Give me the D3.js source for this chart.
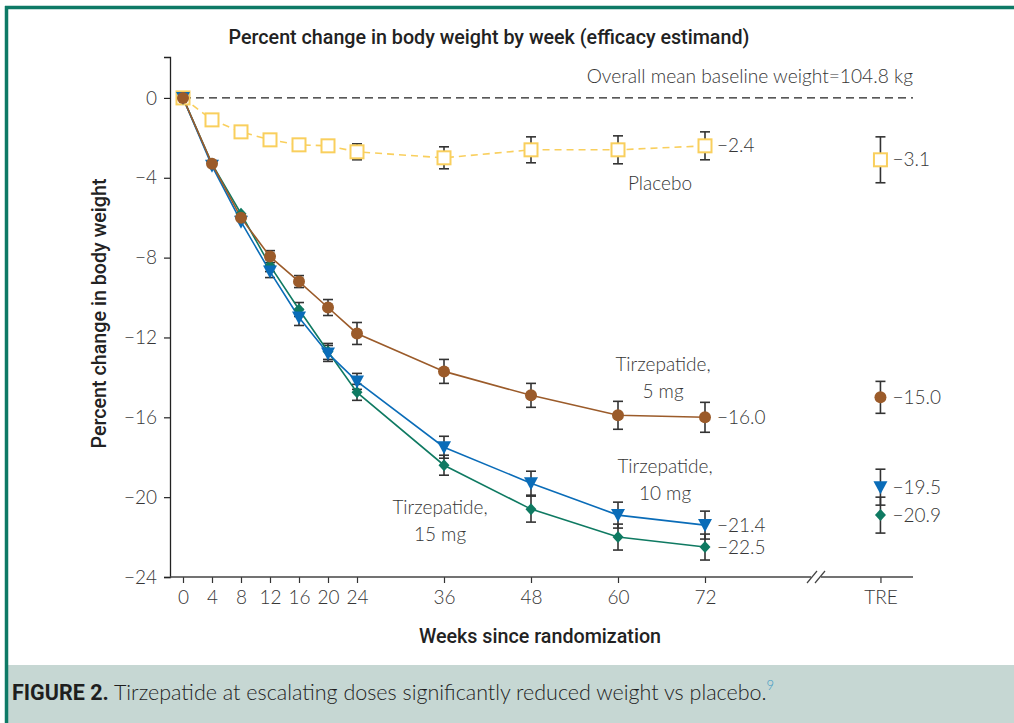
<!DOCTYPE html>
<html><head><meta charset="utf-8">
<script src="https://cdn.jsdelivr.net/npm/d3@7"></script>
<style>
html,body{margin:0;padding:0;background:#fff;}
svg{display:block;}
</style></head>
<body>
<script>
// ---------- data ----------
const weeks = [0,4,8,12,16,20,24,36,48,60,72];
const weekTicks = [0,4,8,12,16,20,24,36,48,60,72];
const treKey = 96.2;
const treLabel = "TRE";
const yTicks = [0,-4,-8,-12,-16,-20,-24];

const placebo    = [0,-1.1,-1.7,-2.1,-2.35,-2.4,-2.7,-3.0,-2.6,-2.6,-2.4];
const placeboErr = [0,0,0,0,0.25,0.25,0.4,0.55,0.65,0.7,0.7];
const tzp5       = [0,-3.3,-6.0,-7.95,-9.2,-10.5,-11.8,-13.7,-14.9,-15.9,-16.0];
const tzp5Err    = [0,0,0,0.3,0.3,0.4,0.55,0.6,0.6,0.7,0.75];
const tzp10      = [0,-3.4,-6.2,-8.7,-11.0,-12.8,-14.2,-17.5,-19.3,-20.9,-21.4];
const tzp10Err   = [0,0,0,0.3,0.4,0.4,0.4,0.55,0.6,0.65,0.7];
const tzp15      = [0,-3.3,-5.8,-8.4,-10.6,-12.7,-14.75,-18.4,-20.6,-22.0,-22.5];
const tzp15Err   = [0,0,0,0.3,0.35,0.4,0.4,0.5,0.65,0.65,0.65];

const treValues = [-3.1,-15.0,-19.5,-20.9];
const treErr    = [1.15,0.8,0.9,0.9];
const endLabels = ["\u22122.4","\u221216.0","\u221221.4","\u221222.5"];
const treLabels = ["\u22123.1","\u221215.0","\u221219.5","\u221220.9"];
const seriesNames = ["Placebo","Tirzepatide,|5 mg","Tirzepatide,|10 mg","Tirzepatide,|15 mg"];

const chartTitle = "Percent change in body weight by week (efficacy estimand)";
const baselineNote = "Overall mean baseline weight=104.8 kg";
const yTitle = "Percent change in body weight";
const xTitle = "Weeks since randomization";
const captionBold = "FIGURE 2.";
const captionText = " Tirzepatide at escalating doses significantly reduced weight vs placebo.";
const captionRef = "9";

// ---------- setup ----------
const W = 1014, H = 723;
const svg = d3.select("body").append("svg").attr("width",W).attr("height",H);
const tickFont = "Lato, 'Open Sans', sans-serif";
const boldFont = "Roboto, 'Noto Sans', sans-serif";
const textCol = "#363636";
const lightW = 300;

// frame
svg.append("rect").attr("x",0).attr("y",0).attr("width",W).attr("height",H).attr("fill","#fff");
svg.append("rect").attr("x",7).attr("y",665).attr("width",W-7).attr("height",H-665).attr("fill","#c6d7d3");
svg.append("line").attr("x1",5).attr("x2",W).attr("y1",7.5).attr("y2",7.5).attr("stroke","#0e7a66").attr("stroke-width",3.5);
svg.append("line").attr("x1",6.5).attr("x2",6.5).attr("y1",6).attr("y2",H).attr("stroke","#0e7a66").attr("stroke-width",3.5);

const x = d3.scaleLinear().domain([0,72]).range([183,705]);
const y = d3.scaleLinear().domain([2.05,-24]).range([57,577]);
const axisLeftX = 170, axisRightX = 913;

// titles
svg.append("text").attr("x",489).attr("y",44).attr("text-anchor","middle")
  .attr("font-family",boldFont).attr("font-weight",500).attr("font-size",19.7).attr("fill","#222").text(chartTitle);
svg.append("text").attr("x",913).attr("y",83).attr("text-anchor","end")
  .attr("font-family",tickFont).attr("font-weight",lightW).attr("font-size",19.2).attr("fill",textCol).text(baselineNote);
svg.append("text").attr("transform",`translate(106,${y(-10.8)}) rotate(-90)`).attr("text-anchor","middle")
  .attr("font-family",boldFont).attr("font-weight",500).attr("font-size",19.7).attr("fill","#222").text(yTitle);
svg.append("text").attr("x",540).attr("y",643).attr("text-anchor","middle")
  .attr("font-family",boldFont).attr("font-weight",500).attr("font-size",19.7).attr("fill","#222").text(xTitle);

// y axis
const yAxisG = svg.append("g").attr("transform",`translate(${axisLeftX},0)`)
  .call(d3.axisLeft(y).tickValues(yTicks).tickSize(6).tickPadding(7).tickFormat(d=> d===0?"0":"\u2212"+Math.abs(d)));
yAxisG.select(".domain").attr("stroke","#222").attr("stroke-width",1.3);
yAxisG.selectAll(".tick line").attr("stroke","#222").attr("stroke-width",1.2);
yAxisG.selectAll(".tick text").attr("font-family",tickFont).attr("font-weight",lightW).attr("font-size",19).attr("fill",textCol);

// x axis
const xAll = d3.scaleLinear().domain([0,72]).range([183,705]);
const xTicksAll = weekTicks.concat([treKey]);
const xAxisG = svg.append("g").attr("transform",`translate(0,${y(-24)})`)
  .call(d3.axisBottom(xAll).tickValues(xTicksAll).tickSize(6).tickPadding(8)
    .tickFormat(d=> d===treKey?treLabel:String(d)));
xAxisG.select(".domain").remove();
xAxisG.append("line").attr("x1",axisLeftX).attr("x2",axisRightX).attr("y1",0).attr("y2",0).attr("stroke","#444").attr("stroke-width",1.3);
xAxisG.selectAll(".tick line").attr("stroke","#333").attr("stroke-width",1.2);
xAxisG.selectAll(".tick text").attr("font-family",tickFont).attr("font-weight",lightW).attr("font-size",19).attr("fill",textCol);
// break marks
const bx = x(72)+107;
xAxisG.append("rect").attr("x",bx-1).attr("y",-1.5).attr("width",10).attr("height",3).attr("fill","#fff");
[0,8].forEach(o=>{
  xAxisG.append("line").attr("x1",bx+o-5).attr("x2",bx+o+5).attr("y1",6).attr("y2",-6).attr("stroke","#444").attr("stroke-width",1.2);
});

// zero reference
svg.append("line").attr("x1",x(0)).attr("x2",axisRightX).attr("y1",y(0)).attr("y2",y(0))
  .attr("stroke","#222").attr("stroke-width",1.3).attr("stroke-dasharray","8,5");

// series
const series = [
  {vals:placebo, err:placeboErr, color:"#f9cf5d", marker:"square", dash:"7,5"},
  {vals:tzp5,    err:tzp5Err,    color:"#9b5b2a", marker:"circle"},
  {vals:tzp10,   err:tzp10Err,   color:"#0a6cb8", marker:"triangle"},
  {vals:tzp15,   err:tzp15Err,   color:"#0f7a62", marker:"diamond"}
];

const gErr = svg.append("g"), gLine = svg.append("g"), gMark = svg.append("g");

function errBar(cx, v, e){
  if(e<=0) return;
  const g = gErr.append("g").attr("stroke","#333").attr("stroke-width",1.6);
  g.append("line").attr("x1",cx).attr("x2",cx).attr("y1",y(v+e)).attr("y2",y(v-e));
  g.append("line").attr("x1",cx-5).attr("x2",cx+5).attr("y1",y(v+e)).attr("y2",y(v+e));
  g.append("line").attr("x1",cx-5).attr("x2",cx+5).attr("y1",y(v-e)).attr("y2",y(v-e));
}
function marker(s, cx, cy){
  if(s.marker==="square"){
    gMark.append("rect").attr("x",cx-6.5).attr("y",cy-6.5).attr("width",13).attr("height",13)
      .attr("fill","#fff").attr("stroke",s.color).attr("stroke-width",2);
  } else if(s.marker==="circle"){
    gMark.append("circle").attr("cx",cx).attr("cy",cy).attr("r",6).attr("fill",s.color);
  } else if(s.marker==="triangle"){
    gMark.append("path").attr("d",`M${cx-7},${cy-6}L${cx+7},${cy-6}L${cx},${cy+7}Z`).attr("fill",s.color);
  } else {
    gMark.append("path").attr("d",`M${cx},${cy-6}L${cx+5.5},${cy}L${cx},${cy+6}L${cx-5.5},${cy}Z`).attr("fill",s.color);
  }
}

const line = d3.line().x((d,i)=>x(weeks[i])).y(d=>y(d));
[0,3,2,1].forEach(k=>{
  const s = series[k];
  gLine.append("path").attr("d",line(s.vals)).attr("fill","none").attr("stroke",s.color)
    .attr("stroke-width",1.6).attr("stroke-dasharray",s.dash||null);
});
series.forEach((s,k)=>{
  s.vals.forEach((v,i)=>errBar(x(weeks[i]),v,s.err[i]));
  errBar(xAll(treKey),treValues[k],treErr[k]);
});
[0,3,2,1].forEach(k=>{
  const s = series[k];
  s.vals.forEach((v,i)=>marker(s,x(weeks[i]),y(v)));
  marker(s,xAll(treKey),y(treValues[k]));
});

// value labels
const lbl = svg.append("g").attr("font-family",tickFont).attr("font-weight",lightW).attr("font-size",19).attr("fill",textCol);
series.forEach((s,k)=>{
  lbl.append("text").attr("x",x(72)+12).attr("y",y(s.vals[10])).attr("dy","0.35em").text(endLabels[k]);
  lbl.append("text").attr("x",xAll(treKey)+12).attr("y",y(treValues[k])).attr("dy","0.35em").text(treLabels[k]);
});

// series name labels
const nameSpots = [[660,-4.6],[663,-13.7],[665,-18.8],[440,-20.85]];
seriesNames.forEach((n,k)=>{
  const parts = n.split("|");
  const t = lbl.append("text").attr("text-anchor","middle");
  parts.forEach((p,j)=>{
    t.append("tspan").attr("x",nameSpots[k][0]).attr("y",y(nameSpots[k][1])+j*27).text(p);
  });
});

// caption
const cap = svg.append("text").attr("x",12).attr("y",700).attr("font-family",tickFont).attr("font-weight",lightW).attr("font-size",21.5).attr("fill","#1e1e1e");
cap.append("tspan").attr("font-family",boldFont).attr("font-weight",700).text(captionBold);
cap.append("tspan").text(captionText);
cap.append("tspan").attr("dy",-10).attr("font-size",13).attr("fill","#3a98c4").text(captionRef);
</script>
</body></html>
